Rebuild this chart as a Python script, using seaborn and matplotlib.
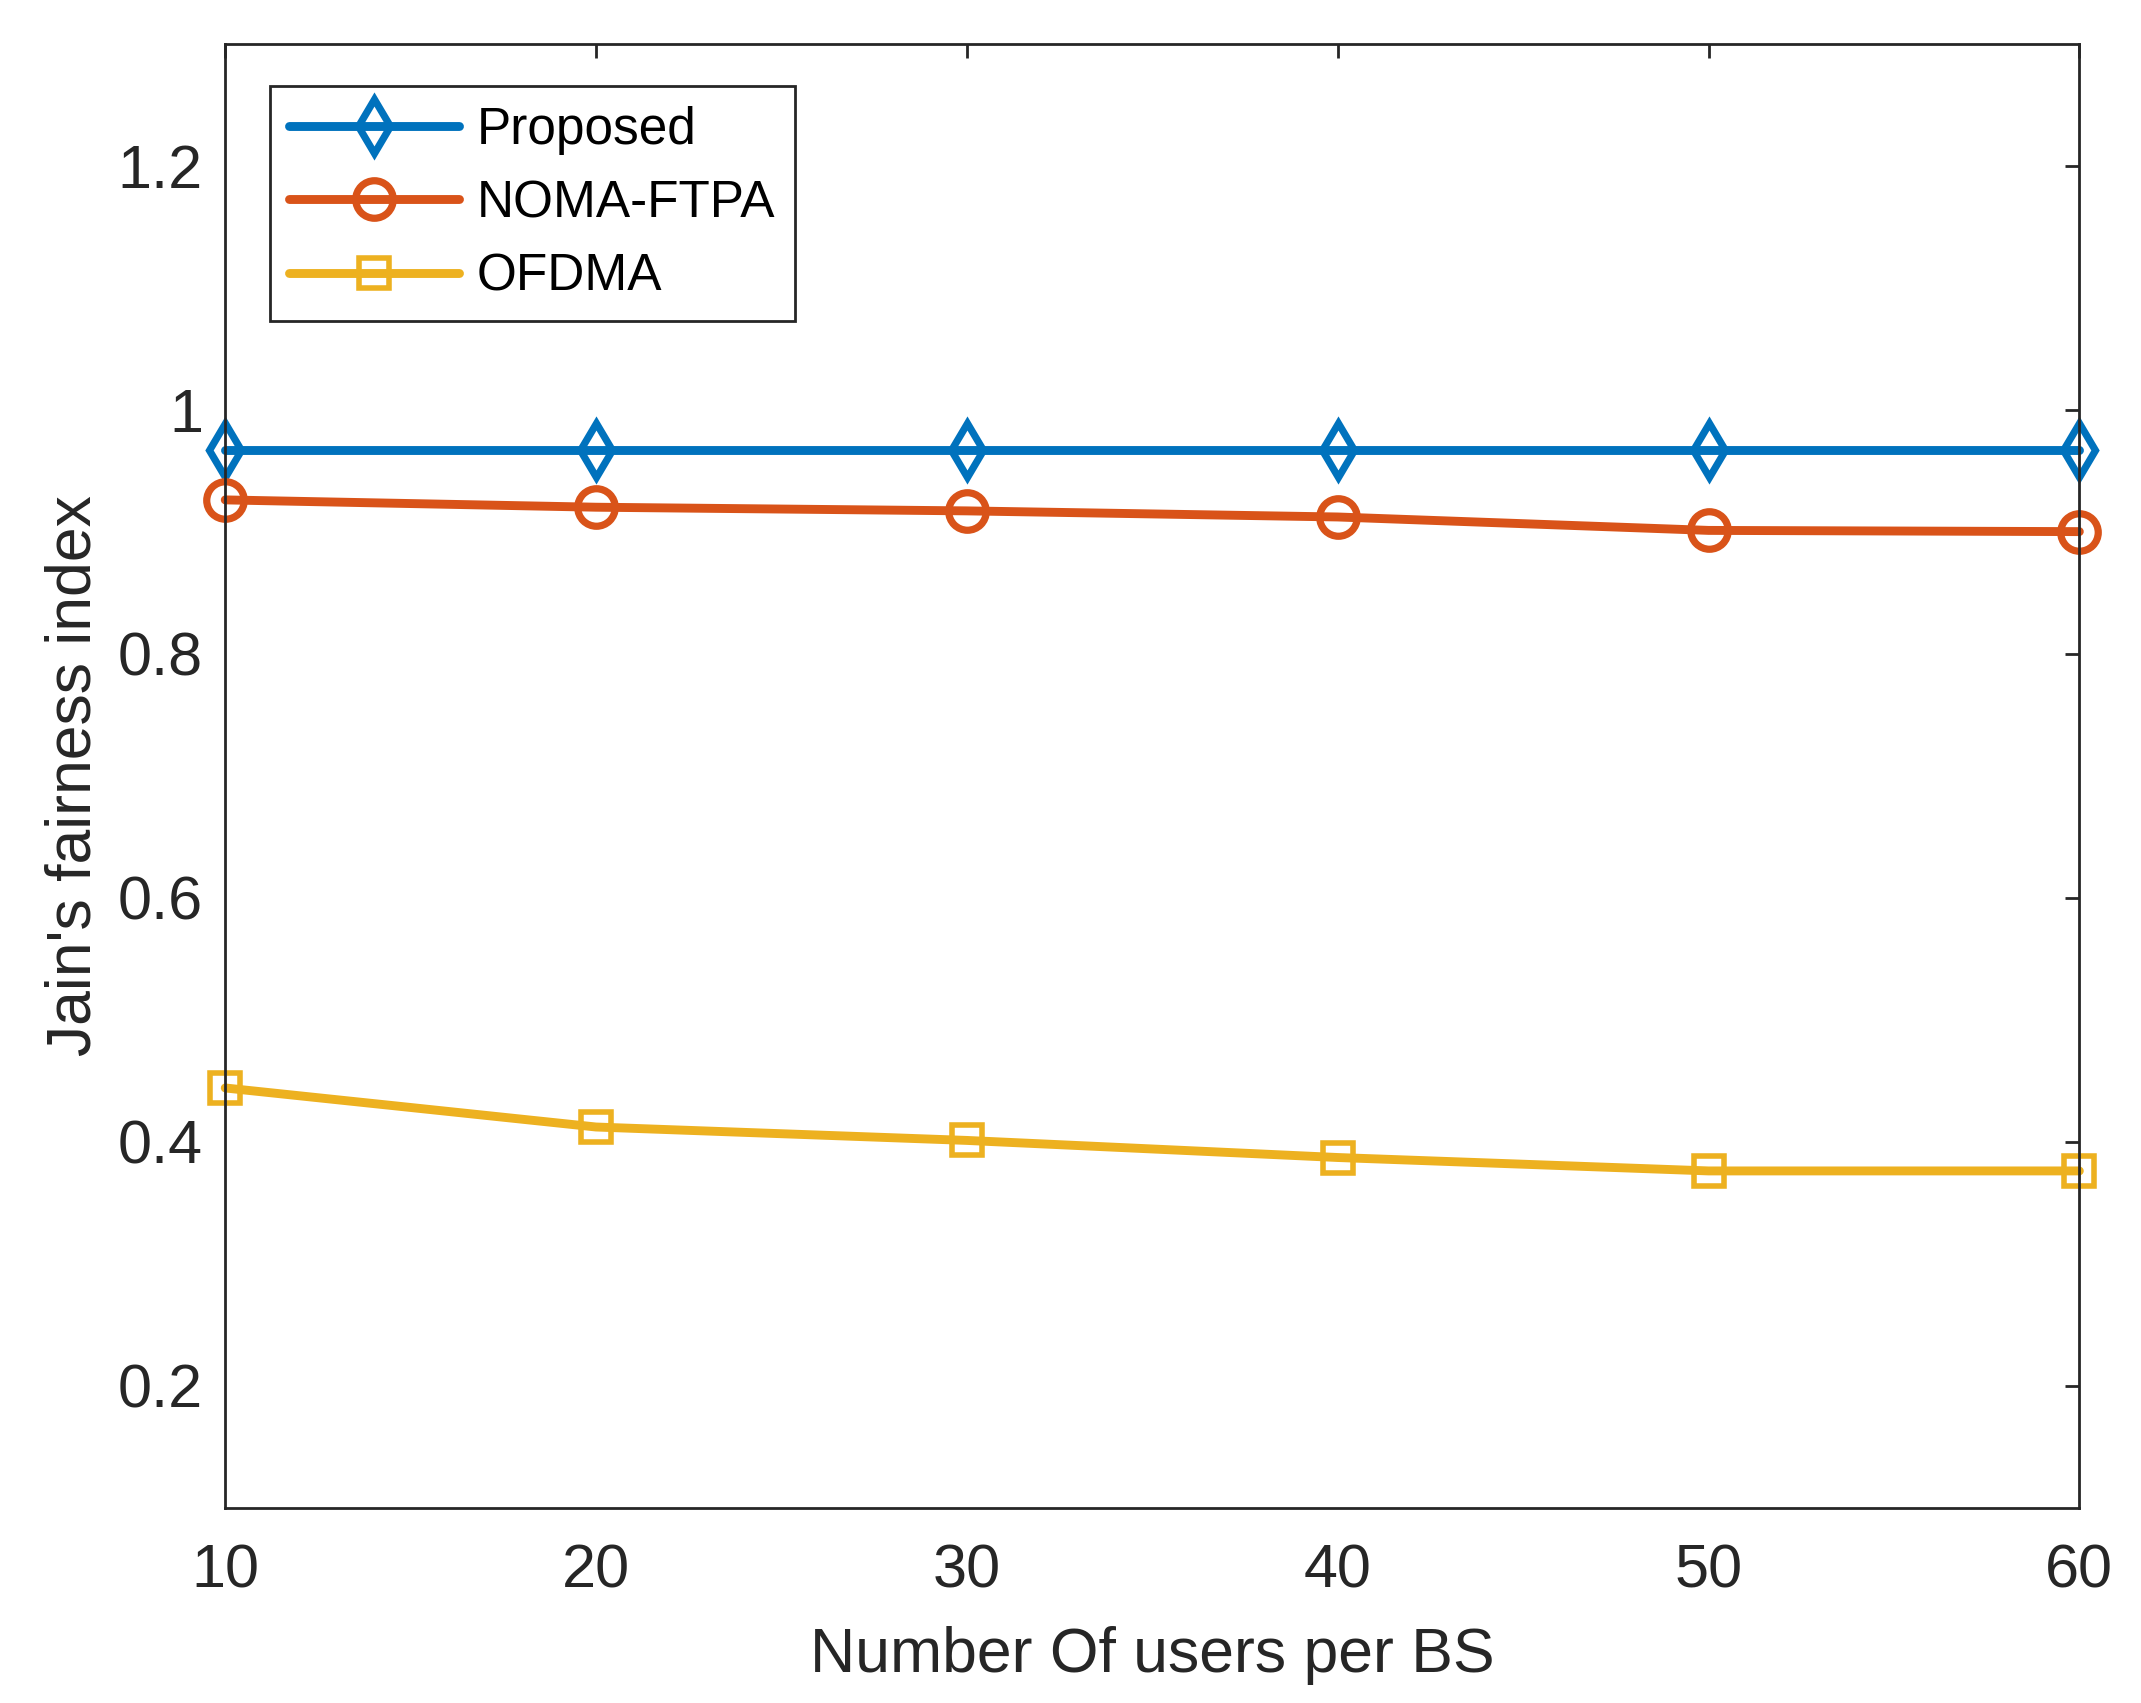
import matplotlib
matplotlib.use('Agg')
import matplotlib.pyplot as plt
import pandas as pd
import seaborn as sns

# Data
users = [10, 20, 30, 40, 50, 60]
proposed = [0.967, 0.967, 0.967, 0.967, 0.967, 0.967]
noma_ftpa = [0.926, 0.920, 0.917, 0.912, 0.901, 0.900]
ofdma = [0.444, 0.412, 0.401, 0.387, 0.376, 0.376]

y_ticks = [0.2, 0.4, 0.6, 0.8, 1.0, 1.2]
y_tick_labels = ['0.2', '0.4', '0.6', '0.8', '1', '1.2']

df = pd.DataFrame({'users': users, 'Proposed': proposed,
                   'NOMA-FTPA': noma_ftpa, 'OFDMA': ofdma})

sns.set_style('white')
plt.rcParams['font.family'] = ['Liberation Sans', 'DejaVu Sans']
text_col = '#262626'

fig = plt.figure(figsize=(10.705, 8.515), dpi=200)
ax = fig.add_axes([0.1052, 0.1147, 0.866, 0.8597])

sns.lineplot(data=df, x='users', y='Proposed', ax=ax, color='#0072BD', lw=3.2,
             marker='d', markersize=14, markerfacecolor='none',
             markeredgecolor='#0072BD', markeredgewidth=2.6, label='Proposed')
sns.lineplot(data=df, x='users', y='NOMA-FTPA', ax=ax, color='#D95319', lw=3.2,
             marker='o', markersize=13.5, markerfacecolor='none',
             markeredgecolor='#D95319', markeredgewidth=2.6, label='NOMA-FTPA')
sns.lineplot(data=df, x='users', y='OFDMA', ax=ax, color='#EDB120', lw=3.2,
             marker='s', markersize=11, markerfacecolor='none',
             markeredgecolor='#EDB120', markeredgewidth=2.0, label='OFDMA')

for line in ax.lines:
    line.set_clip_on(False)

ax.set_xlim(10, 60)
ax.set_ylim(0.1, 1.3)
ax.set_xticks(users)
ax.set_yticks(y_ticks)
ax.set_yticklabels(y_tick_labels)

ax.set_xlabel('Number Of users per BS', fontsize=22.5, color=text_col, labelpad=9)
ax.set_ylabel("Jain's fairness index", fontsize=22.5, color=text_col, labelpad=5)

ax.tick_params(axis='both', which='both', direction='in', length=5, width=1,
               colors=text_col, labelsize=22, top=True, right=True)
ax.tick_params(axis='x', pad=13)
ax.tick_params(axis='y', pad=8)

for sp in ax.spines.values():
    sp.set_visible(True)
    sp.set_color(text_col)
    sp.set_linewidth(1.0)

leg = ax.legend(loc='upper left', bbox_to_anchor=(0.024, 0.971), fontsize=18.5,
                frameon=True, fancybox=False, framealpha=1, edgecolor=text_col,
                handlelength=3.3, handletextpad=0.35, labelspacing=0.48,
                borderpad=0.38, borderaxespad=0)
leg.get_frame().set_linewidth(1.0)
for t in leg.get_texts():
    t.set_color('black')

fig.savefig('out.png', dpi=200, facecolor='white')
